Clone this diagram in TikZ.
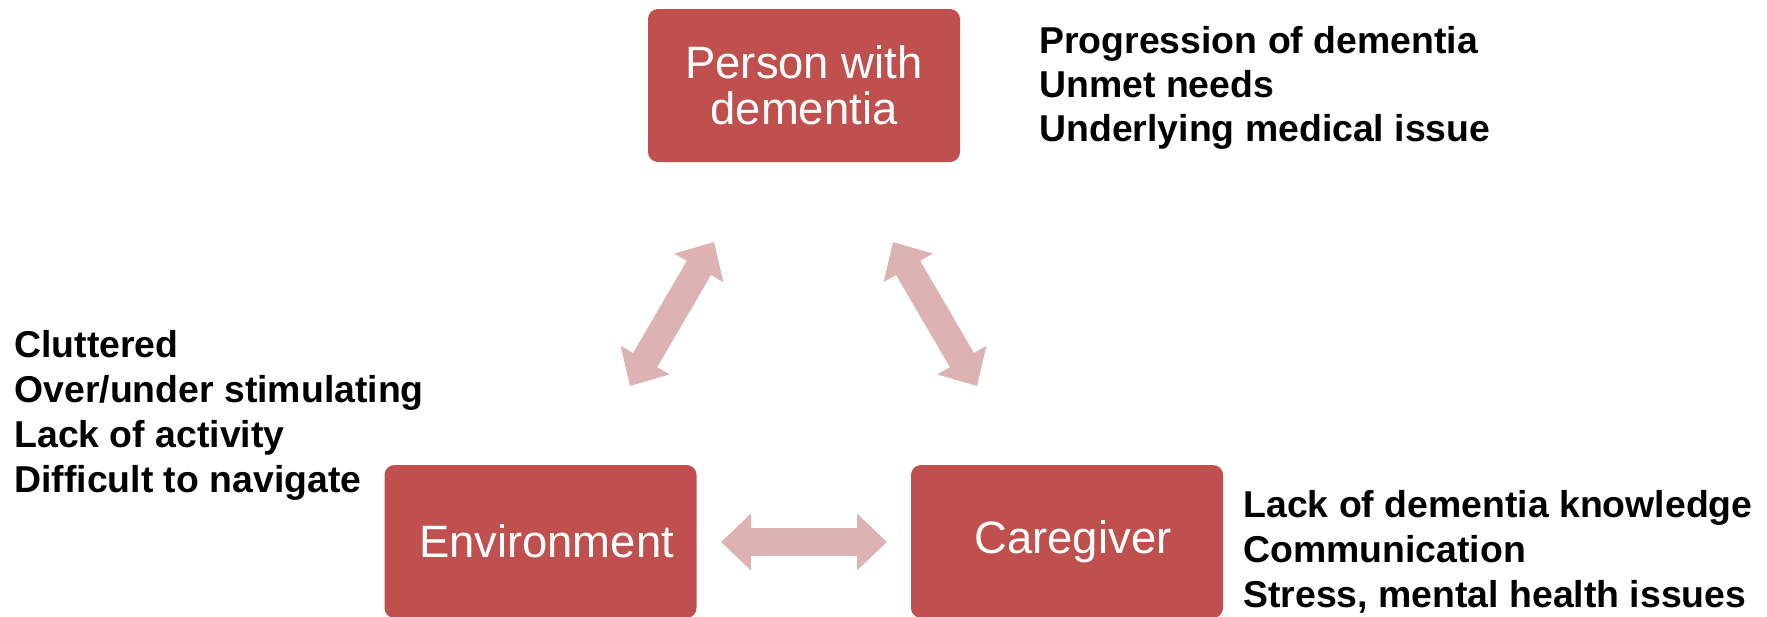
\documentclass[tikz,border=0pt]{standalone}
\usepackage{fontspec}
\setmainfont{Liberation Sans}
\usetikzlibrary{arrows.meta}
\definecolor{boxred}{RGB}{192,80,77}
\definecolor{linkpink}{RGB}{221,178,178}
\tikzset{every node/.style={inner sep=0pt},
  box/.style={fill=boxred,rounded corners=5pt,minimum width=156pt,minimum height=76.5pt,
    text=white,align=center,font=\fontsize{22.7}{23}\selectfont},
  note/.style={anchor=base west,font=\fontsize{18.7}{22.5}\selectfont\bfseries},
  link/.style={draw=linkpink,line width=14pt,<->,>={Triangle[length=15pt,width=27.5pt]}}}

\begin{document}
\begin{tikzpicture}[x=0.5pt,y=-0.5pt]
  \useasboundingbox (0,0) rectangle (1767,616);
  \node[box] (P) at (804,85.5) {Person with\\dementia};
  \node[box] (E) at (540.5,541.5) {\hspace*{6pt}Environment};
  \node[box] (C) at (1067,541.5) {\hspace*{6pt}Caregiver};
  \coordinate (e1) at (630,386);
  \coordinate (p1) at (714,242);
  \coordinate (p2) at (893,242);
  \coordinate (c1) at (977,386);
  \coordinate (e2) at (721,542);
  \coordinate (c2) at (887,542);
  \draw[link] (e1) -- (p1);
  \draw[link] (p2) -- (c1);
  \draw[link] (e2) -- (c2);
  \foreach \t [count=\i from 0] in {Progression of dementia,Unmet needs,Underlying medical issue}
    \node[note] (P\i) at (1039,{53+44*\i}) {\t};
  \foreach \t [count=\i from 0] in {Cluttered,Over/under stimulating,Lack of activity,Difficult to navigate}
    \node[note] (E\i) at (14,{357+45*\i}) {\t};
  \foreach \t [count=\i from 0] in {Lack of dementia knowledge,Communication,{Stress, mental health issues}}
    \node[note] (C\i) at (1243,{517+45*\i}) {\t};
\end{tikzpicture}
\end{document}
